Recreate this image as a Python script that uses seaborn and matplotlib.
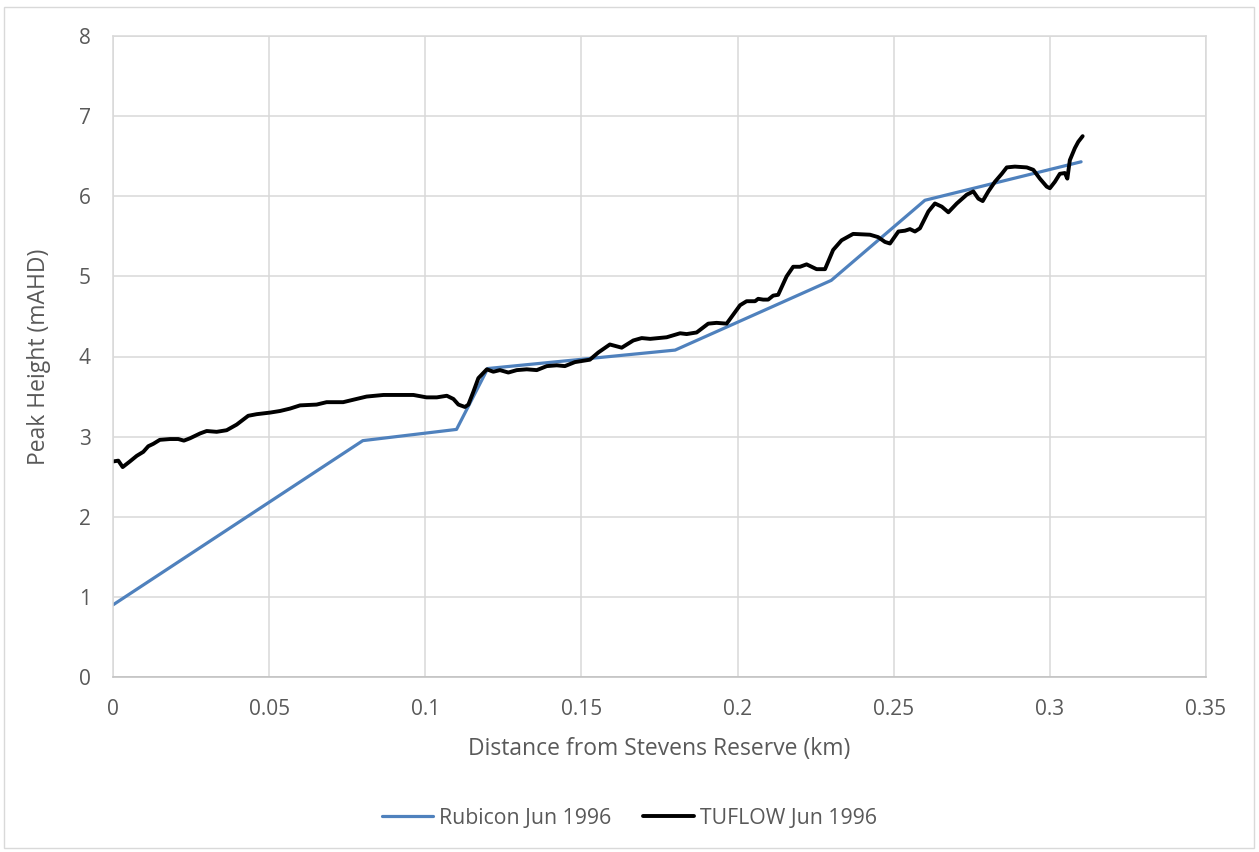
import numpy as np
import pandas as pd
import matplotlib
matplotlib.use("Agg")
import matplotlib.pyplot as plt
from matplotlib.patches import Rectangle
import seaborn as sns

# Rubicon model: surveyed cross-section peak levels
rubicon_km = [0.0, 0.08, 0.11, 0.12, 0.18, 0.23, 0.26, 0.31]
rubicon_h = [0.90, 2.95, 3.09, 3.85, 4.08, 4.95, 5.95, 6.43]

# TUFLOW model: peak levels sampled along the channel
tuflow_km = [0.000, 0.0017, 0.0031, 0.0054, 0.0076, 0.0097, 0.0113, 0.0129, 0.0150, 0.0183,
             0.0209, 0.0227, 0.0247, 0.0279, 0.0300, 0.0332, 0.0364, 0.0396, 0.0433, 0.0460,
             0.0503, 0.0535, 0.0567, 0.0599, 0.0652, 0.0684, 0.0737, 0.0769, 0.0812, 0.0866,
             0.0919, 0.0962, 0.1004, 0.1037, 0.1069, 0.1090, 0.1106, 0.1127, 0.1138, 0.1154,
             0.1170, 0.1197, 0.1218, 0.1239, 0.1266, 0.1293, 0.1325, 0.1357, 0.1389, 0.1421,
             0.1447, 0.1479, 0.1527, 0.1554, 0.1591, 0.1629, 0.1666, 0.1693, 0.1720, 0.1773,
             0.1816, 0.1837, 0.1869, 0.1906, 0.1933, 0.1965, 0.2008, 0.2029, 0.2056, 0.2066,
             0.2082, 0.2098, 0.2114, 0.2130, 0.2157, 0.2178, 0.2200, 0.2221, 0.2253, 0.2280,
             0.2306, 0.2333, 0.2370, 0.2424, 0.2450, 0.2472, 0.2488, 0.2515, 0.2536, 0.2552,
             0.2568, 0.2584, 0.2611, 0.2632, 0.2654, 0.2675, 0.2702, 0.2734, 0.2755, 0.2771,
             0.2785, 0.2803, 0.2824, 0.2846, 0.2862, 0.2888, 0.2926, 0.2947, 0.2968, 0.2990,
             0.3000, 0.3016, 0.3032, 0.3048, 0.3056, 0.3064, 0.3080, 0.3091, 0.3105]
tuflow_h = [2.69, 2.70, 2.62, 2.69, 2.76, 2.81, 2.88, 2.91, 2.96, 2.97,
            2.97, 2.95, 2.98, 3.04, 3.07, 3.06, 3.08, 3.15, 3.26, 3.28,
            3.30, 3.32, 3.35, 3.39, 3.40, 3.43, 3.43, 3.46, 3.50, 3.52,
            3.52, 3.52, 3.49, 3.49, 3.51, 3.47, 3.40, 3.37, 3.40, 3.56,
            3.73, 3.84, 3.81, 3.83, 3.80, 3.83, 3.84, 3.83, 3.88, 3.89,
            3.88, 3.93, 3.96, 4.05, 4.15, 4.11, 4.20, 4.23, 4.22, 4.24,
            4.29, 4.28, 4.30, 4.41, 4.42, 4.41, 4.64, 4.69, 4.69, 4.72,
            4.71, 4.71, 4.76, 4.77, 5.00, 5.12, 5.12, 5.15, 5.09, 5.09,
            5.33, 5.45, 5.53, 5.52, 5.49, 5.43, 5.41, 5.56, 5.57, 5.59,
            5.56, 5.60, 5.81, 5.91, 5.87, 5.80, 5.91, 6.02, 6.06, 5.97,
            5.94, 6.06, 6.18, 6.28, 6.36, 6.37, 6.36, 6.33, 6.22, 6.12,
            6.10, 6.18, 6.28, 6.29, 6.22, 6.45, 6.60, 6.68, 6.75]

series_names = ["Rubicon Jun 1996", "TUFLOW Jun 1996"]
x_ticks = [0, 0.05, 0.1, 0.15, 0.2, 0.25, 0.3, 0.35]
x_tick_labels = ["0", "0.05", "0.1", "0.15", "0.2", "0.25", "0.3", "0.35"]
y_ticks = [0, 1, 2, 3, 4, 5, 6, 7, 8]

df = pd.concat([
    pd.DataFrame({"km": rubicon_km, "h": rubicon_h, "series": series_names[0]}),
    pd.DataFrame({"km": tuflow_km, "h": tuflow_h, "series": series_names[1]}),
], ignore_index=True)

sns.set_theme(style="white")
plt.rcParams["font.family"] = ["Open Sans", "DejaVu Sans"]

text_color = "#595959"
grid_color = "#d9d9d9"

fig = plt.figure(figsize=(12.59, 8.52), dpi=100)
ax = fig.add_axes([113 / 1259, 1 - 677 / 852, (1206 - 113) / 1259, (677 - 36) / 852])

palette = {series_names[0]: "#4f81bd", series_names[1]: "#000000"}
widths = {series_names[0]: 2.3, series_names[1]: 2.8}
for name in series_names:
    sns.lineplot(data=df[df.series == name], x="km", y="h", color=palette[name],
                 linewidth=widths[name], sort=False, estimator=None, ax=ax, label=name)

ax.set_xlim(0, 0.35)
ax.set_ylim(0, 8)
ax.set_xticks(x_ticks)
ax.set_xticklabels(x_tick_labels)
ax.set_yticks(y_ticks)
ax.grid(True, color=grid_color, linewidth=1.1)
ax.set_axisbelow(True)
for side, sp in ax.spines.items():
    sp.set_color(grid_color)
    sp.set_linewidth(1.1)
ax.spines["bottom"].set_color("#bfbfbf")

ax.tick_params(axis="both", length=0, labelsize=15, labelcolor=text_color)
ax.tick_params(axis="x", pad=16)
ax.tick_params(axis="y", pad=16)
ax.set_xlabel("Distance from Stevens Reserve (km)", fontsize=16.5, color=text_color, labelpad=12)
ax.set_ylabel("Peak Height (mAHD)", fontsize=16.5, color=text_color, labelpad=20)

handles, labels = ax.get_legend_handles_labels()
ax.legend_.remove()
fig.legend(handles, labels, loc="center", bbox_to_anchor=(0.5, 1 - 818 / 852), ncol=2,
           frameon=False, fontsize=15.3, labelcolor=text_color, handlelength=2.4,
           handletextpad=0.3, columnspacing=1.45)

fig.patches.append(Rectangle((4 / 1259, 1 - 848 / 852), 1250 / 1259, 841 / 852,
                             transform=fig.transFigure, fill=False,
                             edgecolor=grid_color, linewidth=1.0))

fig.savefig("out.png", dpi=100, facecolor="white")
